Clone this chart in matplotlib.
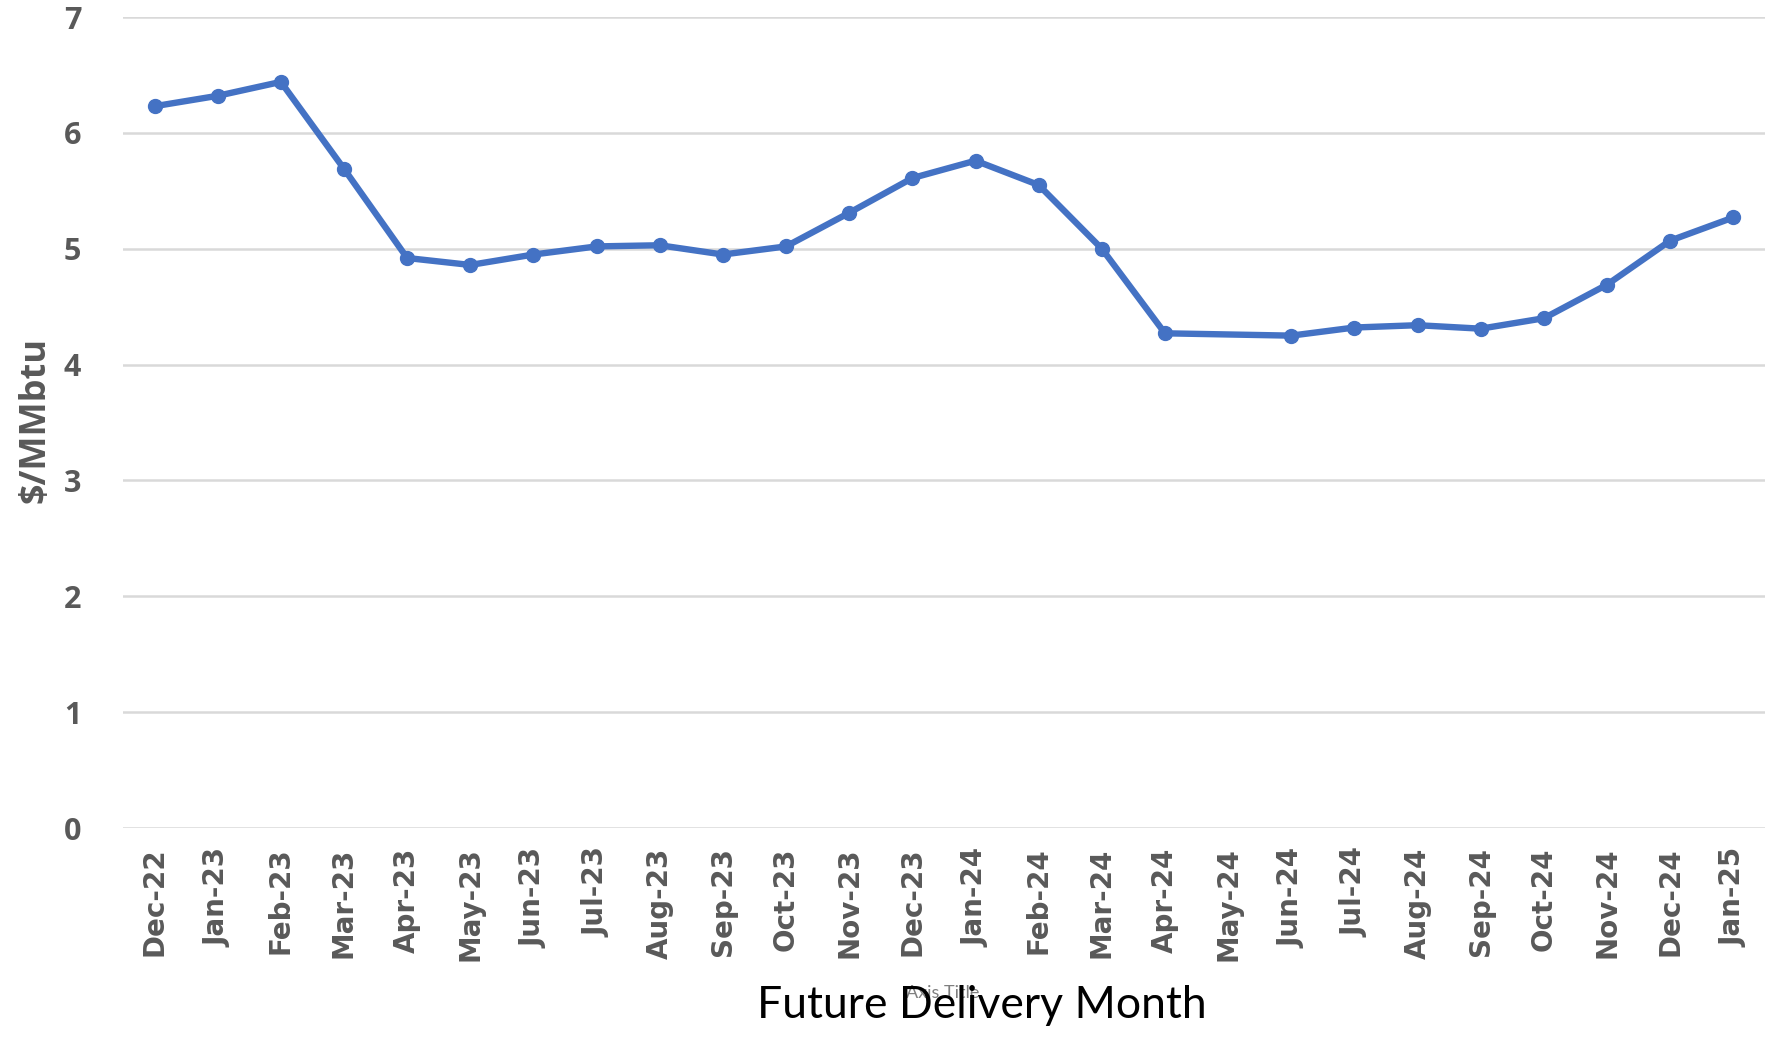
import numpy as np
import matplotlib
matplotlib.use("Agg")
import matplotlib.pyplot as plt

# ── data ────────────────────────────────────────────────────────────────────
months = ["Dec-22", "Jan-23", "Feb-23", "Mar-23", "Apr-23", "May-23", "Jun-23",
          "Jul-23", "Aug-23", "Sep-23", "Oct-23", "Nov-23", "Dec-23", "Jan-24",
          "Feb-24", "Mar-24", "Apr-24", "May-24", "Jun-24", "Jul-24", "Aug-24",
          "Sep-24", "Oct-24", "Nov-24", "Dec-24", "Jan-25"]
# May-24 has no value in the source (line bridges the gap)
prices = [6.23, 6.32, 6.44, 5.69, 4.92, 4.86, 4.95, 5.02, 5.03, 4.95, 5.02,
          5.31, 5.61, 5.76, 5.55, 5.00, 4.27, np.nan, 4.25, 4.32, 4.34, 4.31,
          4.40, 4.69, 5.07, 5.27]
y_ticks = [0, 1, 2, 3, 4, 5, 6, 7]

LINE = "#4472C4"
GRID = "#D9D9D9"
TEXT = "#595959"

x = np.arange(len(months))
y = np.array(prices, dtype=float)
ok = ~np.isnan(y)

fig = plt.figure(figsize=(17.69, 10.38), dpi=100)
ax = fig.add_axes([0.0695, 0.2023, 0.9282, 0.7813])

ax.plot(x[ok], y[ok], color=LINE, linewidth=4.6, marker="o",
        markersize=10, solid_joinstyle="round", zorder=3)

ax.set_xlim(-0.5, len(months) - 0.5)
ax.set_ylim(0, 7)
ax.set_yticks(y_ticks)
ax.yaxis.grid(True, color=GRID, linewidth=1.8)
ax.set_axisbelow(True)
for s in ax.spines.values():
    s.set_visible(False)
ax.tick_params(length=0)
ax.tick_params(axis="y", pad=30)
ax.tick_params(axis="x", pad=14)

ax.set_xticks(x)
ax.set_xticklabels(months, rotation=90, fontsize=20, fontweight="bold",
                   color=TEXT, family="DejaVu Sans")
for lab in ax.get_yticklabels():
    lab.set_fontsize(22)
    lab.set_fontweight("bold")
    lab.set_color(TEXT)
    lab.set_family("Open Sans")

fig.text(0.020, 0.595, "$/MMbtu", rotation=90, ha="center", va="center",
         fontsize=26, fontweight="bold", color=TEXT, family="Open Sans")
fig.text(0.533, 0.043, "Axis Title", ha="center", va="center",
         fontsize=13, color="#7F7F7F", family="Lato")
fig.text(0.555, 0.031, "Future Delivery Month", ha="center", va="center",
         fontsize=32, color="black", family="Lato")

fig.savefig("out.png", dpi=100)
